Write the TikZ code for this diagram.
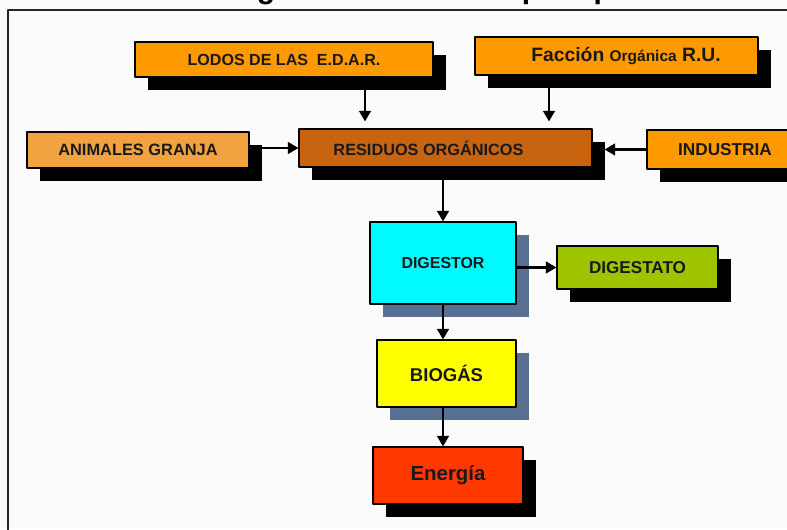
\documentclass[tikz,border=0pt]{standalone}
\usepackage{fontspec}
\setmainfont{Liberation Sans}
\usetikzlibrary{arrows.meta,shadows}
\definecolor{naranja}{RGB}{255,153,0}
\definecolor{naranjaclaro}{RGB}{242,162,62}
\definecolor{marron}{RGB}{200,100,16}
\definecolor{cian}{RGB}{0,250,255}
\definecolor{verde}{RGB}{158,196,0}
\definecolor{amarillo}{RGB}{255,255,0}
\definecolor{rojo}{RGB}{255,56,0}
\definecolor{pizarra}{RGB}{88,112,146}
\definecolor{fondo}{RGB}{251,251,251}
\newcommand{\pxu}{0.03cm}
\newcommand{\tam}[1]{\fontsize{#1}{#1}\selectfont\bfseries}
\begin{document}
\begin{tikzpicture}[x=\pxu, y=-\pxu, line join=round, >={Triangle[length=9pt,width=10pt]},
	caja/.style={draw, line width=1pt, inner sep=0pt, fill=#1, text=black!90},
	sombra/.style={drop shadow={shadow xshift=13*\pxu, shadow yshift=-13*\pxu, fill=#1, opacity=1}},
	sombra/.default=black,
	flecha/.style={->, line width=1.9pt}]
	\useasboundingbox (0,0) rectangle (787,529);
	\clip (0,0) rectangle (787,529);
	\fill[fondo] (0,0) rectangle (787,529);
	\node[anchor=base west, inner sep=0pt, font=\tam{25.6}] (titulo) at (60,-1.5) {Proceso de digestión anaerobia para producción de biogás};
	\draw[line width=1.5pt, black!85] (8,540) |- (800,10);
	% entradas
	\node[caja=naranja, sombra, minimum width=298*\pxu, minimum height=35*\pxu, font=\tam{13.7}] (lodos) at (284,59.5) {LODOS DE LAS~~E.D.A.R.};
	\node[caja=naranja, sombra, minimum width=283*\pxu, minimum height=38*\pxu, font=\tam{16.5}] (faccion) at (616.5,56) {\hspace*{0.57cm}Facción {\tam{13.2}Orgánica} R.U.};
	\node[caja=naranjaclaro, sombra, minimum width=222*\pxu, minimum height=36*\pxu, font=\tam{14}] (animales) at (138,150) {ANIMALES GRANJA};
	\node[caja=marron, sombra, minimum width=293*\pxu, minimum height=38*\pxu, font=\tam{13.9}] (residuos) at (445.5,148) {RESIDUOS ORGÁNICOS\hspace*{1.02cm}};
	\node[caja=naranja, sombra, minimum width=156*\pxu, minimum height=39*\pxu, font=\tam{14.7}] (industria) at (725,149.5) {INDUSTRIA};
	% proceso
	\node[caja=cian, sombra=pizarra, minimum width=146*\pxu, minimum height=82*\pxu, font=\tam{13.6}] (digestor) at (443,263) {DIGESTOR};
	\node[caja=verde, sombra, minimum width=161*\pxu, minimum height=43*\pxu, font=\tam{14.6}] (digestato) at (637.5,267.5) {DIGESTATO};
	\node[caja=amarillo, sombra=pizarra, minimum width=139*\pxu, minimum height=67*\pxu, font=\tam{15.8}] (biogas) at (446.5,373.5) {BIOGÁS};
	\node[caja=rojo, sombra, minimum width=150*\pxu, minimum height=57*\pxu, font=\tam{17.4}] (energia) at (448,475.5) {Energía};
	% flechas
	\coordinate (xl) at (365,0);
	\coordinate (xf) at (549,0);
	\draw[flecha, shorten >=6pt] (lodos.south -| xl) -- (residuos.north -| xl);
	\draw[flecha, shorten >=6pt] (faccion.south -| xf) -- (residuos.north -| xf);
	\draw[flecha] (animales.east |- residuos.west) -- (residuos.west);
	\draw[flecha, shorten >=12*\pxu] (industria.west) -- (residuos.east |- industria.west);
	\draw[flecha] (residuos.south -| digestor.north) -- (digestor.north);
	\draw[flecha] (digestor.east |- digestato.west) -- (digestato.west);
	\draw[flecha] (digestor.south) -- (biogas.north -| digestor.south);
	\draw[flecha] (biogas.south -| digestor.south) -- (energia.north -| digestor.south);
\end{tikzpicture}
\end{document}
